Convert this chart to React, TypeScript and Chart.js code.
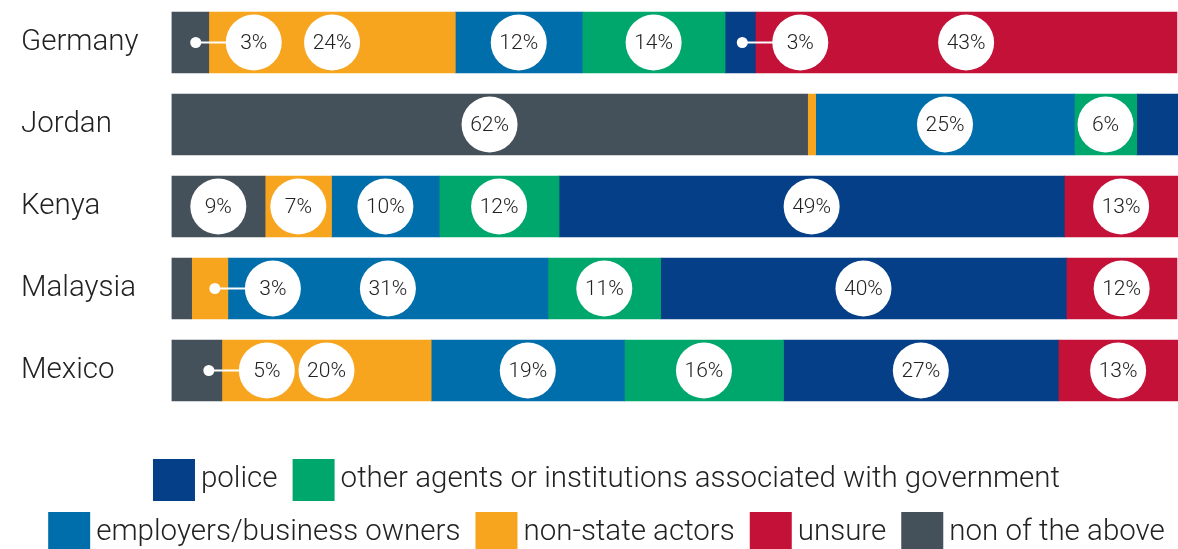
import React, { useEffect, useRef } from "react";
import { Chart, registerables } from "chart.js";

Chart.register(...registerables);

// ---- data ----
const countries = ["Germany", "Jordan", "Kenya", "Malaysia", "Mexico"];

const noneOfTheAbove = [3.7, 63.2, 9.3, 2.0, 5.0];
const nonStateActors = [24.5, 0.8, 6.6, 3.6, 20.8];
const employers = [12.6, 25.7, 10.7, 31.8, 19.2];
const otherAgents = [14.2, 6.2, 11.9, 11.2, 15.8];
const police = [3.0, 4.1, 50.2, 40.3, 27.3];
const unsure = [41.9, 0, 11.3, 11.0, 11.9];

const noneLabels = ["3%", "62%", "9%", "", "5%"];
const nonStateLabels = ["24%", "", "7%", "3%", "20%"];
const employersLabels = ["12%", "25%", "10%", "31%", "19%"];
const otherAgentsLabels = ["14%", "6%", "12%", "11%", "16%"];
const policeLabels = ["3%", "", "49%", "40%", "27%"];
const unsureLabels = ["43%", "", "13%", "12%", "13%"];

const seriesNames = [
  "non of the above",
  "non-state actors",
  "employers/business owners",
  "other agents or institutions associated with government",
  "police",
  "unsure",
];
const seriesColors = ["#44505a", "#f7a51e", "#006eab", "#00a76d", "#043f88", "#c41138"];

// legend arrangement (dataset indices per row)
const legendRows = [
  [4, 3],
  [2, 1, 5, 0],
];

const FONT = "Roboto, 'Noto Sans', sans-serif";
const TEXT_COLOR = "#222222";

const circleLabelsPlugin = {
  id: "circleLabels",
  afterDatasetsDraw(chart: any) {
    const ctx = chart.ctx;
    const R = 28;
    ctx.save();
    chart.data.datasets.forEach((ds: any, di: number) => {
      const meta = chart.getDatasetMeta(di);
      meta.data.forEach((bar: any, i: number) => {
        const text = ds.pctLabels[i];
        if (!text) return;
        const p = bar.getProps(["x", "y", "base"], true);
        const left = Math.min(p.x, p.base);
        const right = Math.max(p.x, p.base);
        const w = right - left;
        let cx = (left + right) / 2;
        const cy = p.y;
        if (w < 2 * R) {
          const dotX = right - 13;
          cx = right + 45;
          ctx.strokeStyle = "#ffffff";
          ctx.lineWidth = 2;
          ctx.beginPath();
          ctx.moveTo(dotX, cy);
          ctx.lineTo(cx - R + 1, cy);
          ctx.stroke();
          ctx.fillStyle = "#ffffff";
          ctx.beginPath();
          ctx.arc(dotX, cy, 5.5, 0, Math.PI * 2);
          ctx.fill();
        }
        ctx.fillStyle = "#ffffff";
        ctx.beginPath();
        ctx.arc(cx, cy, R, 0, Math.PI * 2);
        ctx.fill();
        ctx.fillStyle = TEXT_COLOR;
        ctx.font = `300 21px ${FONT}`;
        ctx.textAlign = "center";
        ctx.textBaseline = "middle";
        ctx.fillText(text, cx, cy + 1);
      });
    });
    ctx.restore();
  },
};

const customLegendPlugin = {
  id: "customLegend",
  afterDraw(chart: any) {
    const ctx = chart.ctx;
    const box = 42;
    const gapText = 6;
    const gapItem = 15;
    const centerX = 606.5;
    const rowTops = [459, 512];
    ctx.save();
    ctx.font = `300 29.5px ${FONT}`;
    ctx.textBaseline = "middle";
    ctx.textAlign = "left";
    legendRows.forEach((row, r) => {
      const widths = row.map((di) => ctx.measureText(chart.data.datasets[di].label).width);
      let total = 0;
      widths.forEach((tw, k) => {
        total += box + gapText + tw + (k < row.length - 1 ? gapItem : 0);
      });
      let x = centerX - total / 2;
      const top = rowTops[r];
      row.forEach((di, k) => {
        const ds = chart.data.datasets[di];
        ctx.fillStyle = ds.backgroundColor;
        ctx.fillRect(x, top, box, box);
        x += box + gapText;
        ctx.fillStyle = TEXT_COLOR;
        ctx.fillText(ds.label, x, top + box / 2);
        x += widths[k] + gapItem;
      });
    });
    ctx.restore();
  },
};

export default function App() {
  const canvasRef = useRef<HTMLCanvasElement | null>(null);

  useEffect(() => {
    const values = [noneOfTheAbove, nonStateActors, employers, otherAgents, police, unsure];
    const labels = [noneLabels, nonStateLabels, employersLabels, otherAgentsLabels, policeLabels, unsureLabels];
    const chart = new Chart(canvasRef.current as HTMLCanvasElement, {
      type: "bar",
      data: {
        labels: countries,
        datasets: values.map((v, k) => ({
          label: seriesNames[k],
          data: v,
          backgroundColor: seriesColors[k],
          borderWidth: 0,
          barThickness: 61,
          pctLabels: labels[k],
        })) as any,
      },
      options: {
        indexAxis: "y",
        animation: false,
        responsive: true,
        maintainAspectRatio: false,
        layout: { padding: { left: 21, right: 0, top: 1.5, bottom: 137.5 } },
        plugins: {
          legend: { display: false },
          tooltip: { enabled: false },
        },
        scales: {
          x: {
            stacked: true,
            min: 0,
            max: 100,
            display: false,
          },
          y: {
            stacked: true,
            grid: { display: false },
            border: { display: false },
            afterFit: (scale: any) => {
              scale.width = 150.5;
              scale.paddingTop = 0;
              scale.paddingBottom = 0;
            },
            ticks: {
              crossAlign: "far",
              padding: 0,
              labelOffset: 0,
              color: TEXT_COLOR,
              font: { family: FONT, size: 29.5, weight: "300" as any },
            },
          },
        },
      } as any,
      plugins: [circleLabelsPlugin, customLegendPlugin],
    });
    return () => chart.destroy();
  }, []);

  return (
    <div style={{ position: "absolute", left: 0, top: 0, width: 1178, height: 549, background: "#ffffff" }}>
      <canvas ref={canvasRef} />
    </div>
  );
}
